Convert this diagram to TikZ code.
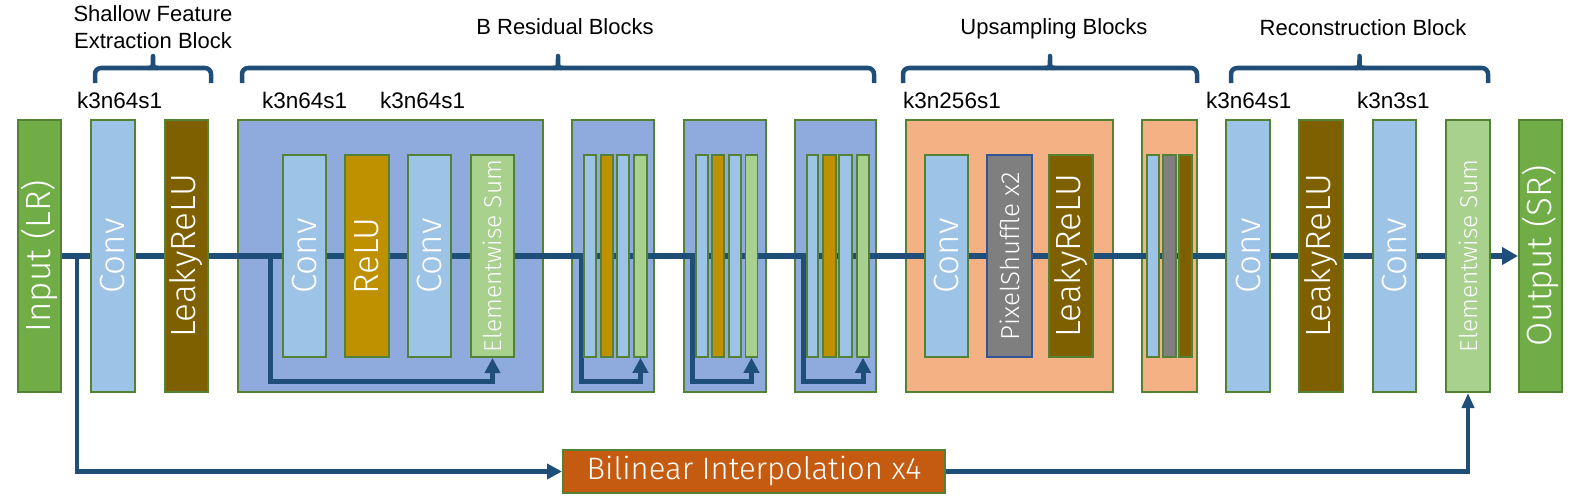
\documentclass[tikz,border=0pt]{standalone}
\usepackage{fontspec}
\setmainfont{Liberation Sans}
\newfontfamily\thinf{Fira Sans Light}
\usepackage{graphicx}
\usetikzlibrary{arrows.meta}
\definecolor{lnblue}{HTML}{1F4E79}
\definecolor{bgreen}{HTML}{548235}
\definecolor{ingreen}{HTML}{70AD47}
\definecolor{convblue}{HTML}{9DC3E6}
\definecolor{lrelu}{HTML}{7F6000}
\definecolor{relu}{HTML}{BF9000}
\definecolor{sumgreen}{HTML}{A9D18E}
\definecolor{resblue}{HTML}{8FAADC}
\definecolor{upor}{HTML}{F4B183}
\definecolor{psgray}{HTML}{7F7F7F}
\definecolor{psborder}{HTML}{2F5597}
\definecolor{bilor}{HTML}{C55A11}
\newcommand\myfs[1]{\fontsize{#1}{#1}\selectfont}
\newcommand\rot[2]{\rotatebox{90}{\myfs{#1}#2}}
\pgfdeclarelayer{bg}\pgfdeclarelayer{mid}
\pgfsetlayers{bg,mid,main}
\begin{document}
\begin{tikzpicture}[x=1pt,y=-1pt,
 bx/.style={draw=bgreen,line width=2pt,inner sep=0pt,text=white,font=\thinf,minimum height=272pt},
 inbx/.style={bx,minimum height=202pt},
 thinbx/.style={inbx,line width=1.5pt},
 lbl/.style={font=\myfs{22.5},anchor=base west,inner sep=0pt},
 ttl/.style={font=\myfs{22},anchor=base,inner sep=0pt,align=center},
 flow/.style={draw=lnblue,line width=5.5pt},
 skip/.style={draw=lnblue,line width=5pt,-{Triangle[width=15pt,length=15pt]}},
 brc/.style={draw=lnblue,line width=4.5pt,line join=round},
]
\useasboundingbox (0,0) rectangle (1584,503);

% outer blocks
\begin{pgfonlayer}{bg}
\node[bx,fill=resblue,minimum width=305pt] (r1) at (390.5,256) {};
\node[bx,fill=resblue,minimum width=82pt] (r2) at (613,256) {};
\node[bx,fill=resblue,minimum width=82pt] (r3) at (725,256) {};
\node[bx,fill=resblue,minimum width=81pt] (r4) at (835.5,256) {};
\node[bx,fill=upor,minimum width=207pt] (u1) at (1009.5,256) {};
\node[bx,fill=upor,minimum width=55pt] (u2) at (1169.5,256) {};
\end{pgfonlayer}

% main row
\node[bx,fill=ingreen,minimum width=43pt] (in) at (39.5,256) {\rot{35}{Input (LR)}};
\node[bx,fill=convblue,minimum width=44pt] (c1) at (113,256) {\rot{35}{Conv}};
\node[bx,fill=lrelu,minimum width=43pt] (l1) at (186.5,256) {\rot{35}{LeakyReLU}};

\node[inbx,fill=convblue,minimum width=43pt] (r1c1) at (304.5,256) {\rot{35}{Conv}};
\node[inbx,fill=relu,minimum width=44pt] (r1r) at (367,256) {\rot{35}{ReLU}};
\node[inbx,fill=convblue,minimum width=43pt] (r1c2) at (429.5,256) {\rot{35}{Conv}};
\node[inbx,fill=sumgreen,minimum width=43pt] (r1s) at (492.5,256) {\rot{24.5}{Elementwise Sum}};

\node[thinbx,fill=convblue,minimum width=12pt] (r2c1) at (590,256) {};
\node[thinbx,fill=relu,minimum width=12pt] (r2r) at (607,256) {};
\node[thinbx,fill=convblue,minimum width=12pt] (r2c2) at (623,256) {};
\node[thinbx,fill=sumgreen,minimum width=13pt] (r2s) at (640.5,256) {};

\node[thinbx,fill=convblue,minimum width=12pt] (r3c1) at (702,256) {};
\node[thinbx,fill=relu,minimum width=12pt] (r3r) at (718,256) {};
\node[thinbx,fill=convblue,minimum width=12pt] (r3c2) at (735,256) {};
\node[thinbx,fill=sumgreen,minimum width=12pt] (r3s) at (751.5,256) {};

\node[thinbx,fill=convblue,minimum width=11pt] (r4c1) at (812.5,256) {};
\node[thinbx,fill=relu,minimum width=13pt] (r4r) at (829.5,256) {};
\node[thinbx,fill=convblue,minimum width=13pt] (r4c2) at (845.5,256) {};
\node[thinbx,fill=sumgreen,minimum width=12pt] (r4s) at (863,256) {};

\node[inbx,fill=convblue,minimum width=43pt] (u1c) at (946.5,256) {\rot{35}{Conv}};
\node[inbx,fill=psgray,draw=psborder,minimum width=45pt] (u1p) at (1009.5,256) {\rot{26}{PixelShuffle x2}};
\node[inbx,fill=lrelu,minimum width=44pt] (u1l) at (1071,256) {\rot{35}{LeakyReLU}};

\node[thinbx,fill=convblue,minimum width=12pt] (u2c) at (1153,256) {};
\node[thinbx,fill=psgray,minimum width=13pt] (u2p) at (1169.5,256) {};
\node[thinbx,fill=lrelu,minimum width=13pt] (u2l) at (1185.5,256) {};

\node[bx,fill=convblue,minimum width=44pt] (c2) at (1248,256) {\rot{35}{Conv}};
\node[bx,fill=lrelu,minimum width=44pt] (l2) at (1321,256) {\rot{35}{LeakyReLU}};
\node[bx,fill=convblue,minimum width=43pt] (c3) at (1394.5,256) {\rot{35}{Conv}};
\node[bx,fill=sumgreen,minimum width=44pt] (s) at (1468,256) {\rot{24.5}{Elementwise Sum}};
\node[bx,fill=ingreen,minimum width=43pt] (out) at (1540.5,256) {\rot{35}{Output (SR)}};

\node[draw=bgreen,line width=2pt,fill=bilor,text=white,font=\thinf\myfs{31},inner sep=0pt,minimum width=382pt,minimum height=43pt] (bil) at (754,471.5) {Bilinear Interpolation x4};

% connectors
\coordinate (k0) at (77,256);
\coordinate (r1a) at (270,256); \coordinate (r1b) at (270,381);
\coordinate (r2a) at (581,256); \coordinate (r2b) at (581,381);
\coordinate (r3a) at (692,256); \coordinate (r3b) at (692,381);
\coordinate (r4a) at (803,256); \coordinate (r4b) at (803,381);
\begin{pgfonlayer}{mid}
\draw[flow,-{Triangle[width=17pt,length=16pt]}] (in.east) -- (out.west);
\draw[skip] (r1a) -- (r1b) -| (r1s.south);
\draw[skip] (r2a) -- (r2b) -| (r2s.south);
\draw[skip] (r3a) -- (r3b) -| (r3s.south);
\draw[skip] (r4a) -- (r4b) -| (r4s.south);
\draw[draw=lnblue,line width=4.5pt,-{Triangle[width=15pt,length=15pt]}] (k0) |- (bil.west);
\draw[draw=lnblue,line width=4.5pt,-{Triangle[width=12pt,length=15pt]}] (bil.east) -| (s.south);
\end{pgfonlayer}

% braces
\newcommand\topbrace[2]{%
 \draw[brc,rounded corners=6pt] (#1,83) -- (#1,68) -- (#2,68) -- (#2,83);
 \draw[brc] ({(#1+#2)/2-5},68) .. controls ({(#1+#2)/2},68) .. ({(#1+#2)/2},56) .. controls ({(#1+#2)/2},68) .. ({(#1+#2)/2+5},68);}
\topbrace{95}{211}
\topbrace{242}{874}
\topbrace{903}{1197}
\topbrace{1231}{1488}

% titles
\node[ttl,anchor=north] (t1) at (153,5) {Shallow Feature\\[5pt]Extraction Block};
\node[ttl] (t2) at (565,35) {B Residual Blocks};
\node[ttl] (t3) at (1054,35) {Upsampling Blocks};
\node[ttl] (t4) at (1363,36) {Reconstruction Block};

% labels
\node[lbl] (k1) at (77,108) {k3n64s1};
\node[lbl] (k2) at (262,108) {k3n64s1};
\node[lbl] (k3) at (380,108) {k3n64s1};
\node[lbl] (k4) at (903,108) {k3n256s1};
\node[lbl] (k5) at (1206,108) {k3n64s1};
\node[lbl] (k6) at (1357,108) {k3n3s1};
\end{tikzpicture}
\end{document}
